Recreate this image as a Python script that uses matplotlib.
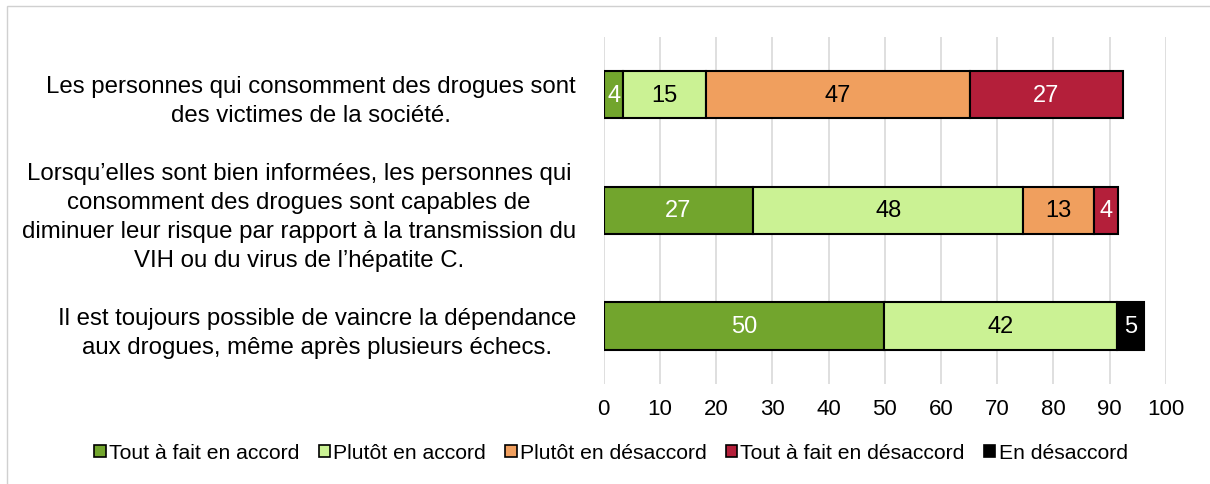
import numpy as np
import matplotlib.pyplot as plt
from matplotlib.patches import Rectangle, Patch

# ============================================================
# DATA
# ============================================================

QUESTIONS = [
    "Les personnes qui consomment des drogues sont\ndes victimes de la société.",
    "Lorsqu’elles sont bien informées, les personnes qui\nconsomment des drogues sont capables de\n"
    "diminuer leur risque par rapport à la transmission du\nVIH ou du virus de l’hépatite C.",
    "Il est toujours possible de vaincre la dépendance\naux drogues, même après plusieurs échecs.",
]

CATEGORIES = ["Tout à fait en accord", "Plutôt en accord", "Plutôt en désaccord",
              "Tout à fait en désaccord", "En désaccord"]

tout_accord = [3.5, 26.6, 49.8]
plutot_accord = [14.6, 48.0, 41.6]
plutot_desaccord = [47.0, 12.6, 0]
tout_desaccord = [27.2, 4.3, 0]
en_desaccord = [0, 0, 4.7]

SERIES = [tout_accord, plutot_accord, plutot_desaccord, tout_desaccord, en_desaccord]
COLORS = ["#72A52D", "#CBF294", "#F09F5E", "#B41F3A", "#000000"]
TEXT_COLORS = ["white", "black", "black", "white", "white"]

# ============================================================
# PLOT
# ============================================================

plt.rcParams['font.family'] = ['Liberation Sans', 'DejaVu Sans']

fig = plt.figure(figsize=(12.10, 4.85), dpi=100)
ax = fig.add_axes([0.499, 0.206, 0.4645, 0.716])

# light frame of the chart area
fig.patches.append(Rectangle((7 / 1210, -0.1), 1.2, 1 - 7 / 485 + 0.1,
                             transform=fig.transFigure, fill=False,
                             edgecolor="#D0D0D0", linewidth=1))

y = np.arange(len(QUESTIONS))
left = np.zeros(len(QUESTIONS))
for vals, name, color, tcol in zip(SERIES, CATEGORIES, COLORS, TEXT_COLORS):
    vals = np.array(vals)
    mask = vals > 0
    ax.barh(y[mask], vals[mask], left=left[mask], height=0.41, color=color,
            edgecolor="black", linewidth=1.5, zorder=3)
    for yi, v, l in zip(y[mask], vals[mask], left[mask]):
        ax.text(l + v / 2, yi, f"{v:.0f}", ha="center", va="center",
                color=tcol, fontsize=17, zorder=4)
    left = left + vals

ax.set_xlim(0, 100)
ax.set_ylim(len(QUESTIONS) - 0.5, -0.5)
ax.set_xticks(np.arange(0, 101, 10))
ax.set_yticks(y)
ax.set_yticklabels(QUESTIONS, fontsize=17.3)
for lab in ax.get_yticklabels():
    lab.set_multialignment("center")
    lab.set_linespacing(1.4)
ax.tick_params(axis="x", labelsize=16, length=0, pad=10)
ax.tick_params(axis="y", length=0, pad=20)
ax.grid(True, axis="x", color="#D9D9D9", linewidth=1.2, zorder=0)
for s in ax.spines.values():
    s.set_visible(False)

handles = [Patch(facecolor=c, edgecolor="black", linewidth=1.2) for c in COLORS]
fig.legend(handles, CATEGORIES, loc="center", bbox_to_anchor=(0.505, 0.064),
           ncol=5, frameon=False, fontsize=15.2, handlelength=0.55, handleheight=0.55,
           handletextpad=0.15, columnspacing=0.9)

fig.savefig("out.png", dpi=100)
